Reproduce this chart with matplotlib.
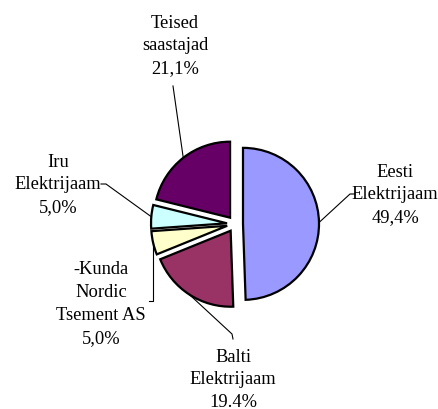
import matplotlib.pyplot as plt
import numpy as np

# shares of emissions, %
labels = ["Eesti\nElektrijaam", "Balti\nElektrijaam", "-Kunda\nNordic\nTsement AS",
          "Iru\nElektrijaam", "Teised\nsaastajad"]
values = [49.4, 19.4, 5.0, 5.0, 21.1]
pct_text = ["49,4%", "19.4%", "5,0%", "5,0%", "21,1%"]
colors = ["#9999FF", "#993366", "#FFFFCC", "#CCFFFF", "#660066"]

W, H = 438, 410
fig = plt.figure(figsize=(W / 100, H / 100), dpi=100)
ax = fig.add_axes([0, 0, 1, 1])
ax.set_xlim(0, W)
ax.set_ylim(0, H)
ax.set_aspect("equal")
ax.axis("off")

R = 76
# explode offset is in data units here
wedges, _ = ax.pie(values, colors=colors, radius=R, center=(235, H - 225),
                   startangle=90, counterclock=False, explode=[8] * 5,
                   wedgeprops=dict(edgecolor="black", linewidth=1.6))
ax.set_xlim(0, W)
ax.set_ylim(0, H)

# label placement (pixel coords, y from top) and leader elbow points
text_pos = [(395, 195), (233, 380), (101, 304), (58, 185), (175, 46)]
elbows = [[(355, 195), (350, 195)],
          [(233, 340), (232, 335)],
          [(149, 302), (153, 302)],
          [(101, 185), (106, 185)],
          [(173, 87)]]

for w, lab, pct, (tx, ty), elb in zip(wedges, labels, pct_text, text_pos, elbows):
    ax.text(tx, H - ty, lab + "\n" + pct, ha="center", va="center",
            fontsize=13.3, family="Liberation Serif", linespacing=1.45)
    mid = np.deg2rad((w.theta1 + w.theta2) / 2)
    cx, cy = w.center
    end = (cx + w.r * np.cos(mid), cy + w.r * np.sin(mid))
    if lab.startswith("-Kunda"):
        end = (elb[-1][0], end[1])
    xs = [p[0] for p in elb] + [end[0]]
    ys = [H - p[1] for p in elb] + [end[1]]
    ax.plot(xs, ys, color="black", linewidth=0.8)

fig.savefig("out.png", dpi=100)
